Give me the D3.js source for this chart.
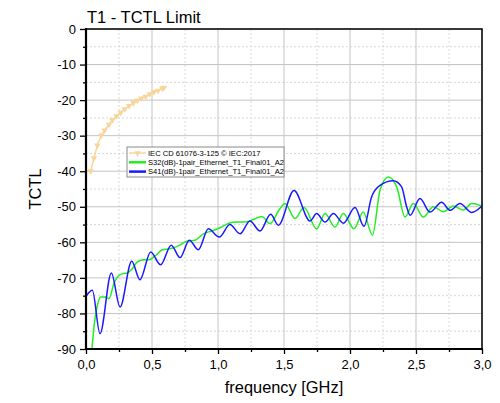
<!DOCTYPE html>
<html>
<head>
<meta charset="utf-8">
<script src="https://cdn.jsdelivr.net/npm/d3@7"></script>
<style>
  body { margin: 0; background: #fff; }
  text { font-family: Arial, "Liberation Sans", sans-serif; fill: #000; }
</style>
</head>
<body>
<div id="chartDiv"></div>
<script>
// values
let limitFreq = [0, 0.035, 0.06, 0.086, 0.116, 0.141, 0.174, 0.2, 0.232, 0.263, 0.293, 0.326, 0.359, 0.389, 0.419, 0.452, 0.482, 0.515, 0.545, 0.578, 0.59];
let limitVal = [-40, -40, -36.3, -32.7, -29.9, -28.5, -26.9, -25.6, -24.5, -23.5, -22.5, -21.6, -20.8, -20.1, -19.5, -19.0, -18.3, -17.7, -17.3, -16.7, -16.5];

let s32Freq = [0, 0.015, 0.03, 0.045, 0.06, 0.086, 0.111, 0.149, 0.174, 0.212, 0.237, 0.275, 0.313, 0.351, 0.389, 0.439, 0.477, 0.528, 0.578, 0.636, 0.699, 0.763, 0.826, 0.889, 0.952, 1.015, 1.078, 1.141, 1.205, 1.268, 1.331, 1.394, 1.47, 1.508, 1.583, 1.652, 1.747, 1.811, 1.886, 1.95, 2.03, 2.1, 2.17, 2.227, 2.29, 2.354, 2.417, 2.48, 2.556, 2.631, 2.707, 2.783, 2.859, 2.922, 3.0];
let s32Val = [-89, -93, -95, -90, -83.9, -77.8, -75.4, -75.4, -75.8, -71.6, -69.8, -68.8, -68.6, -67.4, -65.5, -64.9, -64.9, -63.7, -62.1, -61.8, -61.0, -59.7, -59.4, -57.6, -56.8, -55.9, -54.7, -54.3, -54.3, -53.6, -52.7, -54.7, -50.5, -49.1, -53.3, -50.2, -56.2, -51.9, -55.7, -51.9, -56.2, -51.5, -58.0, -45.4, -41.6, -44.4, -52.9, -49.1, -52.9, -50.0, -51.4, -49.8, -50.9, -49.1, -49.8];

let s41Freq = [0, 0.048, 0.106, 0.192, 0.258, 0.346, 0.409, 0.49, 0.565, 0.646, 0.712, 0.783, 0.851, 0.927, 1.01, 1.09, 1.167, 1.242, 1.318, 1.399, 1.457, 1.576, 1.697, 1.747, 1.811, 1.874, 1.95, 2.038, 2.106, 2.164, 2.227, 2.328, 2.391, 2.429, 2.455, 2.53, 2.606, 2.694, 2.758, 2.833, 2.922, 3.0];
let s41Val = [-75.2, -73.5, -85.7, -68.6, -78.2, -65.3, -70.5, -62.7, -66.3, -60.8, -64.3, -59.4, -62.1, -56.2, -58.5, -55.0, -57.6, -54.0, -56.8, -52.1, -55.2, -45.4, -54.0, -51.9, -54.3, -51.9, -54.6, -50.2, -55.5, -47.2, -44.0, -42.7, -44.4, -50.0, -52.4, -47.7, -51.5, -48.7, -51.0, -49.1, -51.6, -49.8];

let xTicks = [0, 0.5, 1.0, 1.5, 2.0, 2.5, 3.0];
let yTicks = [0, -10, -20, -30, -40, -50, -60, -70, -80, -90];
let legendNames = ['IEC CD 61076-3-125 \u00A9 IEC:2017', 'S32(dB)-1pair_Ethernet_T1_Final01_A2', 'S41(dB)-1pair_Ethernet_T1_Final01_A2'];
let colors = ['#f7d59b', '#22ee22', '#1a1aff'];

let margin = {top: 29, right: 18, bottom: 54, left: 86};
let width = 500 - margin.left - margin.right;
let height = 403 - margin.top - margin.bottom;

let svg = d3.select('#chartDiv')
    .append('svg')
    .attr('width', 500)
    .attr('height', 403);

let g = svg.append('g')
    .attr('transform', 'translate(' + margin.left + ',' + margin.top + ')');

let xScale = d3.scaleLinear().domain([0, 3]).range([0, width]);
let yScale = d3.scaleLinear().domain([-90, 0]).range([height, 0]);

// grid: minor dashed, major solid
let xMinor = d3.range(0.25, 3, 0.5);
let yMinor = d3.range(-85, 0, 10);
g.append('g').selectAll('line').data(xMinor).enter().append('line')
    .attr('x1', d => xScale(d)).attr('x2', d => xScale(d))
    .attr('y1', 0).attr('y2', height)
    .attr('stroke', '#d8d8d8').attr('stroke-dasharray', '2,2');
g.append('g').selectAll('line').data(yMinor).enter().append('line')
    .attr('y1', d => yScale(d)).attr('y2', d => yScale(d))
    .attr('x1', 0).attr('x2', width)
    .attr('stroke', '#d8d8d8').attr('stroke-dasharray', '2,2');
g.append('g').selectAll('line').data(xTicks).enter().append('line')
    .attr('x1', d => xScale(d)).attr('x2', d => xScale(d))
    .attr('y1', 0).attr('y2', height)
    .attr('stroke', '#c4c4c4');
g.append('g').selectAll('line').data(yTicks).enter().append('line')
    .attr('y1', d => yScale(d)).attr('y2', d => yScale(d))
    .attr('x1', 0).attr('x2', width)
    .attr('stroke', '#c4c4c4');

// series
g.append('clipPath').attr('id', 'clip')
    .append('rect').attr('width', width).attr('height', height);

let line = d3.line()
    .x(d => xScale(d[0]))
    .y(d => yScale(d[1]))
    .curve(d3.curveMonotoneX);

let limitData = d3.zip(limitFreq, limitVal);
let s32Data = d3.zip(s32Freq, s32Val);
let s41Data = d3.zip(s41Freq, s41Val);

let plot = g.append('g').attr('clip-path', 'url(#clip)');
plot.append('path').datum(limitData)
    .attr('d', d3.line().x(d => xScale(d[0])).y(d => yScale(d[1])))
    .attr('fill', 'none').attr('stroke', colors[0]).attr('stroke-width', 1.5);
let tri = d3.symbol().type(d3.symbolTriangle).size(18);
plot.selectAll('.marker').data(limitData.slice(1)).enter().append('path')
    .attr('class', 'marker')
    .attr('d', tri)
    .attr('transform', d => 'translate(' + xScale(d[0]) + ',' + yScale(d[1]) + ') rotate(180)')
    .attr('fill', colors[0]);
plot.append('path').datum(s32Data)
    .attr('d', line)
    .attr('fill', 'none').attr('stroke', colors[1]).attr('stroke-width', 1.5);
plot.append('path').datum(s41Data)
    .attr('d', line)
    .attr('fill', 'none').attr('stroke', colors[2]).attr('stroke-width', 1.5);

// axes
let xAxis = g.append('g')
    .attr('transform', 'translate(0,' + height + ')')
    .call(d3.axisBottom(xScale).tickValues(xTicks).tickSize(5).tickPadding(6)
        .tickFormat(d => d3.format('.1f')(d).replace('.', ',')));
g.append('g')
    .attr('transform', 'translate(0,' + height + ')')
    .call(d3.axisBottom(xScale).tickValues(xMinor).tickSize(3).tickFormat(''))
    .select('.domain').remove();
let yAxis = g.append('g')
    .call(d3.axisLeft(yScale).tickValues(yTicks).tickSize(6).tickPadding(4)
        .tickFormat(d => d === 0 ? '0' : '-' + Math.abs(d)));
g.append('g')
    .call(d3.axisLeft(yScale).tickValues(yMinor).tickSize(3).tickFormat(''))
    .select('.domain').remove();

g.selectAll('.tick line').attr('stroke', '#000').attr('stroke-width', 1.3);
xAxis.selectAll('text').attr('font-size', '13px').attr('fill', '#000');
yAxis.selectAll('text').attr('font-size', '13px').attr('fill', '#000');
xAxis.select('.domain').remove();
yAxis.select('.domain').remove();

// frame
g.append('rect')
    .attr('width', width).attr('height', height)
    .attr('fill', 'none').attr('stroke', '#000').attr('stroke-width', 1.5);
g.append('line').attr('x1', 0).attr('x2', 0).attr('y1', -1).attr('y2', height + 1)
    .attr('stroke', '#000').attr('stroke-width', 2.2);
g.append('line').attr('x1', -1).attr('x2', width + 1).attr('y1', height).attr('y2', height)
    .attr('stroke', '#000').attr('stroke-width', 2.2);

// legend
let legend = svg.append('g').attr('transform', 'translate(127,147)');
legend.append('rect')
    .attr('width', 157).attr('height', 30)
    .attr('fill', '#fff').attr('stroke', '#8a8a8a').attr('stroke-width', 1);
let rows = legend.selectAll('.row').data(legendNames).enter().append('g')
    .attr('class', 'row')
    .attr('transform', (d, i) => 'translate(0,' + (6 + i * 9.3) + ')');
rows.append('line')
    .attr('x1', 2).attr('x2', 19).attr('y1', 0).attr('y2', 0)
    .attr('stroke', (d, i) => colors[i]).attr('stroke-width', (d, i) => i === 0 ? 1.5 : 2.5);
legend.append('path')
    .attr('d', tri)
    .attr('transform', 'translate(10.5,6) rotate(180)')
    .attr('fill', colors[0]);
rows.append('text')
    .attr('x', 21).attr('y', 2.7)
    .attr('font-size', '7.6px')
    .text(d => d);

// titles
svg.append('text')
    .attr('x', 87).attr('y', 22.5)
    .attr('font-size', '16.5px')
    .text('T1 - TCTL Limit');
svg.append('text')
    .attr('x', margin.left + width / 2).attr('y', 393)
    .attr('text-anchor', 'middle')
    .attr('font-size', '16.4px')
    .text('frequency [GHz]');
svg.append('text')
    .attr('transform', 'translate(41,189) rotate(-90)')
    .attr('text-anchor', 'middle')
    .attr('font-size', '16.4px')
    .text('TCTL');
</script>
</body>
</html>
